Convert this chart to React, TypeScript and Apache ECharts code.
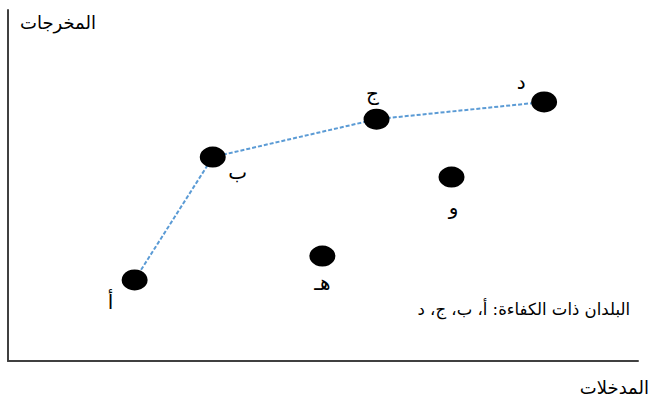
import React, { useEffect, useRef } from "react";
import * as echarts from "echarts";

const countries = ["أ", "ب", "ج", "د", "هـ", "و"];
const inputs = [20.1, 32.5, 58.5, 85.1, 49.9, 70.4];
const outputs = [23.1, 58.1, 68.9, 73.8, 29.9, 52.4];
const frontier = ["أ", "ب", "ج", "د"];
const xAxisName = "المدخلات";
const yAxisName = "المخرجات";
const note = "البلدان ذات الكفاءة: أ، ب، ج، د";

const labelOffsets: Record<string, number[]> = {
  "أ": [-24, 22],
  "ب": [25, 15],
  "ج": [-4, -26],
  "د": [-23, -20],
  "هـ": [0, 27],
  "و": [2, 30],
};

const FONT = "'DejaVu Sans', Arial, sans-serif";

export default function App() {
  const ref = useRef<HTMLDivElement>(null);
  useEffect(() => {
    if (!ref.current) return;
    const chart = echarts.init(ref.current, undefined, { renderer: "svg" });
    const points = countries.map((c, i) => ({
      name: c,
      value: [inputs[i], outputs[i]],
      label: {
        show: true,
        position: "inside",
        offset: labelOffsets[c],
        formatter: c,
        color: "#000",
        fontSize: 20,
        fontFamily: FONT,
      },
    }));
    const line = frontier.map((c) => {
      const i = countries.indexOf(c);
      return [inputs[i], outputs[i]];
    });
    chart.setOption({
      animation: false,
      backgroundColor: "#fff",
      grid: { left: 8, right: 13, top: 10, bottom: 42, containLabel: false },
      xAxis: {
        type: "value",
        min: 0,
        max: 100,
        name: xAxisName,
        nameLocation: "end",
        nameGap: 11,
        nameTextStyle: {
          align: "right",
          verticalAlign: "top",
          padding: [17, 0, 0, 0],
          fontSize: 18,
          color: "#000",
          fontFamily: FONT,
        },
        axisLine: { show: true, lineStyle: { color: "#404040", width: 2 } },
        axisTick: { show: false },
        axisLabel: { show: false },
        splitLine: { show: false },
      },
      yAxis: {
        type: "value",
        min: 0,
        max: 100,
        name: yAxisName,
        nameLocation: "end",
        nameGap: -12,
        nameTextStyle: {
          align: "left",
          verticalAlign: "middle",
          padding: [0, 0, 0, 12],
          fontSize: 18,
          color: "#000",
          fontFamily: FONT,
        },
        axisLine: { show: true, lineStyle: { color: "#404040", width: 2 } },
        axisTick: { show: false },
        axisLabel: { show: false },
        splitLine: { show: false },
      },
      graphic: [
        {
          type: "text",
          right: 22,
          top: 301,
          style: {
            text: note,
            fill: "#000",
            fontSize: 16.5,
            fontFamily: FONT,
          },
        },
      ],
      series: [
        {
          type: "line",
          data: line,
          symbol: "none",
          lineStyle: { color: "#5B9BD5", width: 2, type: [4, 2] },
          z: 1,
        },
        {
          type: "scatter",
          data: points,
          symbol: "circle",
          symbolSize: [26, 21],
          itemStyle: { color: "#000", opacity: 1 },
          z: 2,
        },
      ],
    });
    return () => chart.dispose();
  }, []);
  return <div ref={ref} style={{ width: 652, height: 403, position: "absolute", left: 0, top: 0 }} />;
}
